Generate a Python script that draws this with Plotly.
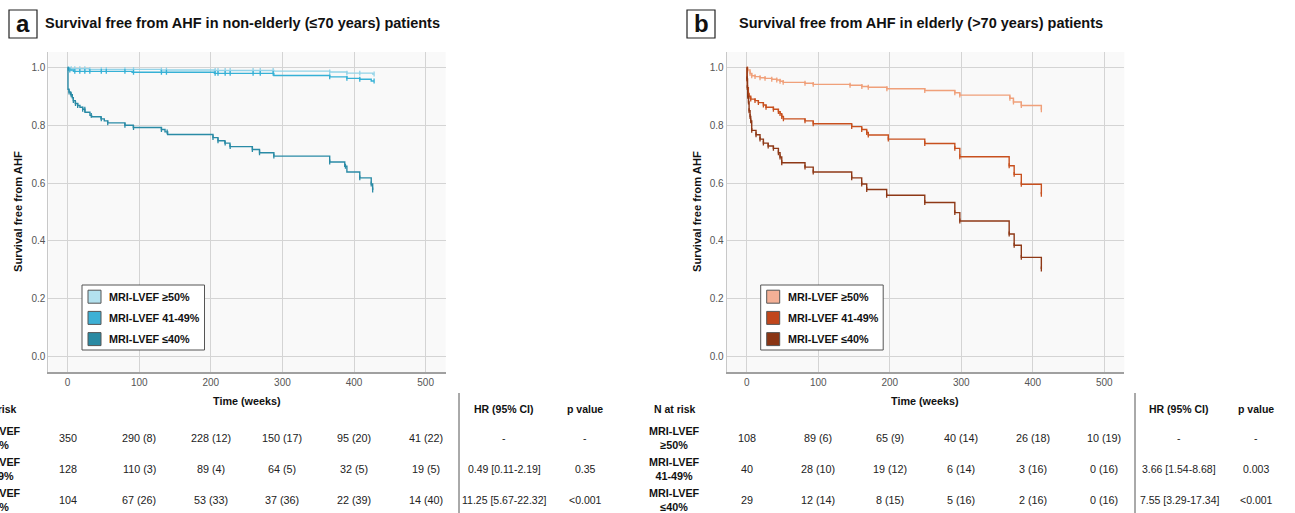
import plotly.graph_objects as go

# ---------------- data ----------------
groups = ["MRI-LVEF ≥50%", "MRI-LVEF 41-49%", "MRI-LVEF ≤40%"]
row_labels = ["MRI-LVEF<br>≥50%", "MRI-LVEF<br>41-49%", "MRI-LVEF<br>≤40%"]
risk_times = [0, 100, 200, 300, 400, 500]

# Panel a: non-elderly
a_hi_t = [0, 2, 30, 130, 205, 288, 366, 390, 426, 428]
a_hi_s = [1.0, 0.995, 0.993, 0.991, 0.989, 0.987, 0.984, 0.980, 0.977, 0.977]
a_mid_t = [0, 1, 8, 90, 205, 288, 366, 390, 408, 424, 428]
a_mid_s = [1.0, 0.991, 0.986, 0.983, 0.979, 0.972, 0.967, 0.962, 0.959, 0.953, 0.953]
a_low_t = [0, 0.5, 1.9, 4.2, 6.5, 7.9, 10.7, 14, 17.2, 21, 24.2, 31.2, 33.5, 46.6, 51.2, 55.9,
           80, 91.7, 131, 136, 139.7, 203, 210, 219.6, 226.7, 258, 268, 288, 366, 387, 390,
           408, 424, 426]
a_low_s = [1.0, 0.924, 0.915, 0.905, 0.895, 0.885, 0.875, 0.868, 0.862, 0.855, 0.845, 0.834,
           0.829, 0.822, 0.815, 0.808, 0.800, 0.792, 0.785, 0.777, 0.768, 0.757, 0.746, 0.738,
           0.726, 0.716, 0.705, 0.693, 0.673, 0.658, 0.638, 0.618, 0.597, 0.576]
a_cens_hi = [5, 10, 17, 24, 31, 47, 54, 80, 92, 131, 138, 206, 210, 220, 227, 259, 269, 287,
             366, 390, 408, 428]
a_cens_mid = [3, 10, 17, 24, 31, 47, 54, 80, 92, 131, 138, 206, 210, 220, 227, 259, 269, 287,
              366, 390, 408, 428]
a_cens_low = [2, 5, 8, 11, 14, 21, 24, 33, 47, 56, 80, 92, 131, 139, 203, 210, 220, 227, 258,
              268, 288, 366, 388, 408, 424, 426]

# Panel b: elderly
b_hi_t = [0, 1.4, 4.7, 7, 11.6, 18.6, 25.6, 35, 42, 46.6, 51, 81.5, 93, 144.5, 161, 170, 196,
          249, 291, 298, 368, 373, 384, 412]
b_hi_s = [1.0, 0.991, 0.979, 0.971, 0.968, 0.964, 0.962, 0.959, 0.956, 0.952, 0.948, 0.945,
          0.941, 0.938, 0.934, 0.931, 0.926, 0.920, 0.912, 0.904, 0.893, 0.880, 0.868, 0.853]
b_mid_t = [0, 0.5, 1, 2.3, 3.3, 5.6, 11.6, 16.3, 23.3, 27, 37.3, 44.3, 46.6, 49, 51.3, 81.5,
           93, 146.8, 160.8, 167.8, 170, 198, 249, 291, 298, 367, 374, 384, 412]
b_mid_s = [1.0, 0.96, 0.93, 0.91, 0.90, 0.89, 0.885, 0.878, 0.87, 0.862, 0.855, 0.847, 0.84,
           0.83, 0.822, 0.815, 0.805, 0.795, 0.785, 0.775, 0.766, 0.752, 0.737, 0.72, 0.691,
           0.66, 0.63, 0.596, 0.561]
b_low_t = [0, 0.5, 1, 1.4, 2.5, 3.3, 4.7, 5.6, 7, 13, 18.6, 23.3, 30, 37.3, 44.3, 46.6, 49,
           81.5, 93, 146.8, 160.8, 167.8, 195.7, 249, 291, 298, 367, 374, 384, 412]
b_low_s = [1.0, 0.96, 0.93, 0.90, 0.88, 0.85, 0.83, 0.815, 0.782, 0.767, 0.752, 0.738, 0.728,
           0.72, 0.705, 0.69, 0.67, 0.655, 0.638, 0.618, 0.597, 0.578, 0.558, 0.533, 0.498,
           0.469, 0.424, 0.385, 0.343, 0.303]

# Risk tables
a_risk = [["350", "290 (8)", "228 (12)", "150 (17)", "95 (20)", "41 (22)"],
          ["128", "110 (3)", "89 (4)", "64 (5)", "32 (5)", "19 (5)"],
          ["104", "67 (26)", "53 (33)", "37 (36)", "22 (39)", "14 (40)"]]
a_hr = ["-", "0.49 [0.11-2.19]", "11.25 [5.67-22.32]"]
a_p = ["-", "0.35", "<0.001"]
b_risk = [["108", "89 (6)", "65 (9)", "40 (14)", "26 (18)", "10 (19)"],
          ["40", "28 (10)", "19 (12)", "6 (14)", "3 (16)", "0 (16)"],
          ["29", "12 (14)", "8 (15)", "5 (16)", "2 (16)", "0 (16)"]]
b_hr = ["-", "3.66 [1.54-8.68]", "7.55 [3.29-17.34]"]
b_p = ["-", "0.003", "<0.001"]

# ---------------- style ----------------
W, H = 1295, 513
FONT = "Liberation Sans, Arial, sans-serif"
a_line_cols = ["#93d3e8", "#36b1d6", "#2a8ba6"]
a_swatch_cols = ["#b3e1ee", "#3db0d5", "#2a8aa3"]
b_line_cols = ["#f0a07a", "#c8501e", "#8e3816"]
b_swatch_cols = ["#f4b096", "#c1461b", "#8a3514"]


def px(x):
    return x / W


def py(y):
    return 1 - y / H


def step_at(T, S, t):
    v = S[0]
    for ti, si in zip(T, S):
        if ti <= t:
            v = si
    return v


fig = go.Figure()

panels = [
    ("x", "y", [(a_hi_t, a_hi_s, a_cens_hi), (a_mid_t, a_mid_s, a_cens_mid),
                (a_low_t, a_low_s, a_cens_low)], a_line_cols),
    ("x2", "y2", [(b_hi_t, b_hi_s, None), (b_mid_t, b_mid_s, None),
                  (b_low_t, b_low_s, None)], b_line_cols),
]

for xa, ya, series, cols in panels:
    for (T, S, C), col, name in zip(series, cols, groups):
        fig.add_trace(go.Scatter(x=T, y=S, mode="lines", line=dict(color=col, width=1.4, shape="hv"),
                                 xaxis=xa, yaxis=ya, name=name, showlegend=False, hoverinfo="skip"))
        if C is None:
            cx, cy = T[1:], S[1:]
        else:
            cx = C
            cy = [step_at(T, S, t) for t in C]
        fig.add_trace(go.Scatter(x=cx, y=cy, mode="markers",
                                 marker=dict(symbol="line-ns-open", size=3.5, color=col,
                                             line=dict(color=col, width=1.3)),
                                 xaxis=xa, yaxis=ya, showlegend=False, hoverinfo="skip"))

YDOM = [py(372), py(52)]
axis_common = dict(showgrid=True, gridcolor="#d4d4d4", gridwidth=1, zeroline=False,
                   ticks="", tickfont=dict(family=FONT, size=10, color="#555"))
fig.update_layout(
    width=W, height=H, margin=dict(l=0, r=0, t=0, b=0),
    paper_bgcolor="white", plot_bgcolor="#f9f9f9",
    showlegend=False,
    xaxis=dict(domain=[px(48.3), px(445.7)], range=[-27, 528], tickvals=risk_times,
               showline=True, linecolor="#a0a0a0", linewidth=1.5, anchor="y", **axis_common),
    yaxis=dict(domain=YDOM, range=[-0.053, 1.053], tickvals=[0, 0.2, 0.4, 0.6, 0.8, 1.0],
               tickformat=".1f", showline=True, linecolor="#c8c8c8", linewidth=1, anchor="x",
               **axis_common),
    xaxis2=dict(domain=[px(726.7), px(1124.3)], range=[-28, 528], tickvals=risk_times,
                showline=True, linecolor="#a0a0a0", linewidth=1.5, anchor="y2", **axis_common),
    yaxis2=dict(domain=YDOM, range=[-0.053, 1.053], tickvals=[0, 0.2, 0.4, 0.6, 0.8, 1.0],
                tickformat=".1f", showline=True, linecolor="#c8c8c8", linewidth=1, anchor="x2",
                **axis_common),
)

shapes = []
ann = []


def text(x, y, s, size=10.5, bold=False, anchor="center", color="#222", angle=0, xref="paper"):
    ann.append(dict(x=x, y=py(y), xref=xref, yref="paper", text=s, showarrow=False,
                    xanchor=anchor, yanchor="middle", textangle=angle,
                    font=dict(family=FONT, size=size, color=color,
                              weight="bold" if bold else "normal")))


panel_specs = [
    dict(letter="a", bx=9, tx=43, title="Survival free from AHF in non-elderly (≤70 years) patients",
         pl=48.3, pr=445.7, xref="x", x0=67.7, lg=82, sw=a_swatch_cols, risk=a_risk, hr=a_hr, p=a_p,
         vline=459, hrx=504, pxx=585, ylab=18),
    dict(letter="b", bx=687, tx=737, title="Survival free from AHF in elderly (>70 years) patients",
         pl=726.7, pr=1124.3, xref="x2", x0=746.7, lg=760.7, sw=b_swatch_cols, risk=b_risk, hr=b_hr,
         p=b_p, vline=1135, hrx=1179, pxx=1256, ylab=697),
]

row_y = [438, 469, 500]
for sp in panel_specs:
    # letter box
    shapes.append(dict(type="rect", xref="paper", yref="paper", x0=px(sp["bx"]), x1=px(sp["bx"] + 28),
                       y0=py(38), y1=py(10), line=dict(color="#222", width=1.2), fillcolor="white"))
    text(px(sp["bx"] + 14), 23.5, sp["letter"], size=24, bold=True, color="#111")
    text(px(sp["tx"]), 23, sp["title"], size=14.5, bold=True, anchor="left", color="#111")
    # axis titles
    text(px(sp["ylab"]), 212, "Survival free from AHF", size=11.2, bold=True, angle=-90, color="#111")
    text(px((sp["pl"] + sp["pr"]) / 2), 401, "Time (weeks)", size=10.8, bold=True, color="#111")
    # legend
    lg = sp["lg"]
    shapes.append(dict(type="rect", xref="paper", yref="paper", x0=px(lg), x1=px(lg + 122.5),
                       y0=py(350), y1=py(285), line=dict(color="#555", width=1), fillcolor="white"))
    for i, (g, c) in enumerate(zip(groups, sp["sw"])):
        cy = 296.7 + i * 21.2
        shapes.append(dict(type="rect", xref="paper", yref="paper", x0=px(lg + 6), x1=px(lg + 19),
                           y0=py(cy + 6.5), y1=py(cy - 6.5), line=dict(color="#555", width=1),
                           fillcolor=c))
        text(px(lg + 25), cy, g, size=10.8, bold=True, anchor="left", color="#111")
    # risk table
    lab_x = px(sp["x0"] - 72)
    text(lab_x, 409, "N at risk", size=10.5, bold=True, color="#111")
    for r in range(3):
        text(lab_x, row_y[r], row_labels[r], size=10.8, bold=True, color="#111")
        for t, v in zip(risk_times, sp["risk"][r]):
            text(t, row_y[r], v, size=10.8, xref=sp["xref"])
        text(px(sp["hrx"]), row_y[r], sp["hr"][r], size=10.5)
        text(px(sp["pxx"]), row_y[r], sp["p"][r], size=10.5)
    text(px(sp["hrx"]), 409, "HR (95% CI)", size=10.5, bold=True, color="#111")
    text(px(sp["pxx"]), 409, "p value", size=10.5, bold=True, color="#111")
    shapes.append(dict(type="line", xref="paper", yref="paper", x0=px(sp["vline"]), x1=px(sp["vline"]),
                       y0=py(393), y1=py(513), line=dict(color="#555", width=1)))

fig.update_layout(shapes=shapes, annotations=ann)
fig.write_html("out.html", config={"displayModeBar": False},
               post_script="document.body.style.margin='0px';")
